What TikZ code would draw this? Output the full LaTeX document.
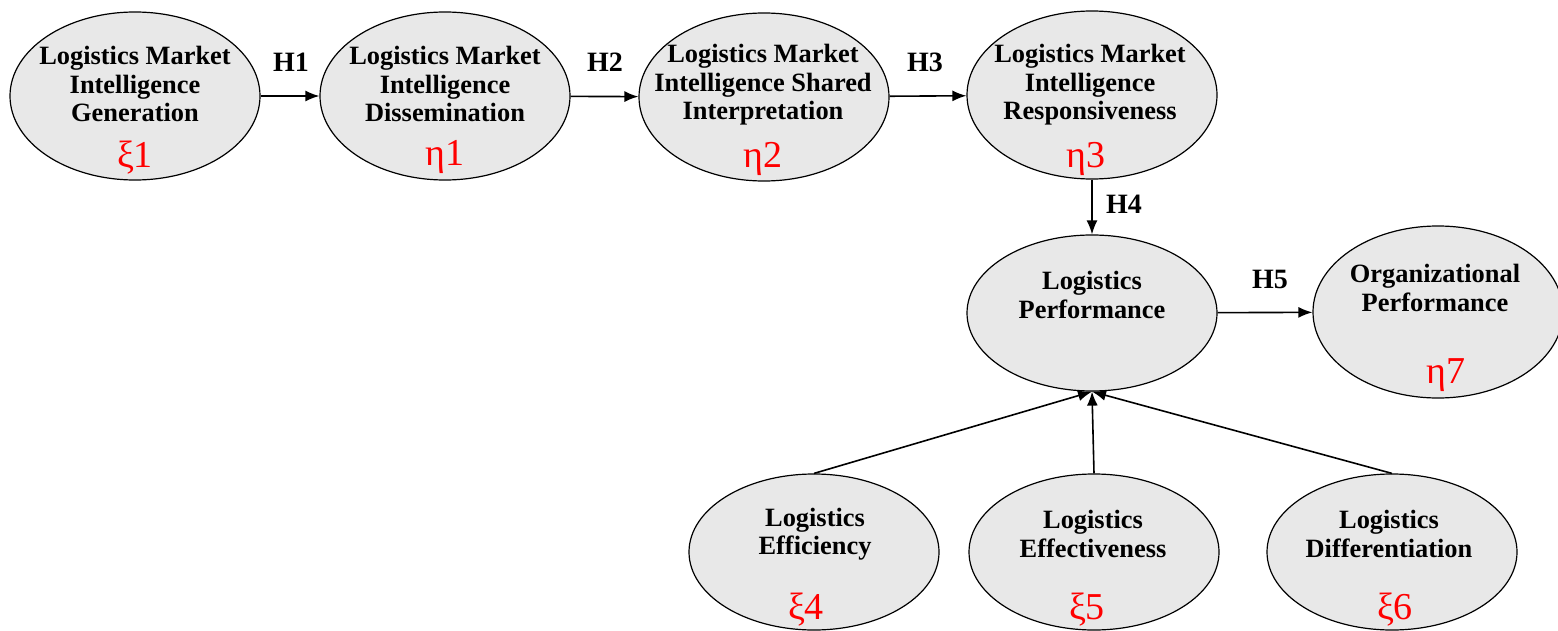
\documentclass[tikz,border=0pt]{standalone}
\usepackage{fontspec}
\setmainfont{Liberation Serif}
\usetikzlibrary{arrows.meta,shapes.geometric}
\definecolor{constructgray}{RGB}{232,232,232}

\begin{document}
\begin{tikzpicture}[>={Latex[length=7pt,width=5.5pt]}, x=0.5pt, y=-0.5pt]
  \tikzstyle{construct} = [draw, line width=0.6pt, fill=constructgray, ellipse, inner sep=0pt, minimum width=125pt, minimum height=84pt]
  \tikzstyle{title} = [align=center, font={\bfseries\fontsize{13.2}{14.2}\selectfont}]
  \tikzstyle{symbol} = [text=red, font={\fontsize{19}{19}\selectfont}]
  \tikzstyle{hyp} = [font={\bfseries\fontsize{14}{14}\selectfont}]
  \tikzstyle{link} = [black, line width=0.8pt, ->];

  \useasboundingbox (0,0) rectangle (1558,631);

  % market intelligence chain
  \node[construct] (gen)    at (135,96)  {};
  \node[construct] (diss)   at (445,96)  {};
  \node[construct] (interp) at (764,97)  {};
  \node[construct] (resp)   at (1092,95) {};

  \node[title] (genT)    at (135,84)  {Logistics Market\\Intelligence\\Generation};
  \node[title] (dissT)   at (445,84)  {Logistics Market\\Intelligence\\Dissemination};
  \node[title] (interpT) at (763,85)  {Logistics Market\\Intelligence Shared\\Interpretation};
  \node[title] (respT)   at (1090,85) {Logistics Market\\Intelligence\\Responsiveness};

  \node[symbol] (genS)    at (135,158)  {ξ1};
  \node[symbol] (dissS)   at (445,157)  {η1};
  \node[symbol] (interpS) at (763,159)  {η2};
  \node[symbol] (respS)   at (1086,159) {η3};

  % performance
  \node[construct, minimum height=78pt] (lp) at (1092,313) {};
  \node[construct, minimum height=86pt] (op) at (1438,312) {};
  \node[title] (lpT) at (1092,295) {Logistics\\Performance};
  \node[title] (opT) at (1435,288) {Organizational\\Performance};
  \node[symbol] (opS) at (1446,375) {η7};

  % logistics capabilities
  \node[construct, minimum height=78pt] (eff)    at (814,552)  {};
  \node[construct, minimum height=78pt] (effect) at (1094,552) {};
  \node[construct, minimum height=78pt] (diff)   at (1392,552) {};
  \node[title] (effT)    at (815,534)  {Logistics\\Efficiency};
  \node[title] (effectT) at (1093,534) {Logistics\\Effectiveness};
  \node[title] (diffT)   at (1389,534) {Logistics\\Differentiation};
  \node[symbol] (effS)    at (806,610)  {ξ4};
  \node[symbol] (effectS) at (1087,610) {ξ5};
  \node[symbol] (diffS)   at (1395,610) {ξ6};

  % hypotheses
  \node[hyp] (h1) at (291,62)  {H1};
  \node[hyp] (h2) at (605,62)  {H2};
  \node[hyp] (h3) at (925,62)  {H3};
  \node[hyp] (h4) at (1124,204) {H4};
  \node[hyp] (h5) at (1270,279) {H5};

  \path (gen)    edge[link] (diss)
        (diss)   edge[link] (interp)
        (interp) edge[link] (resp)
        (resp)   edge[link] (lp)
        (lp)     edge[link] (op)
        (eff.north)    edge[link] (lp.south)
        (effect.north) edge[link] (lp.south)
        (diff.north)   edge[link] (lp.south);
\end{tikzpicture}
\end{document}
